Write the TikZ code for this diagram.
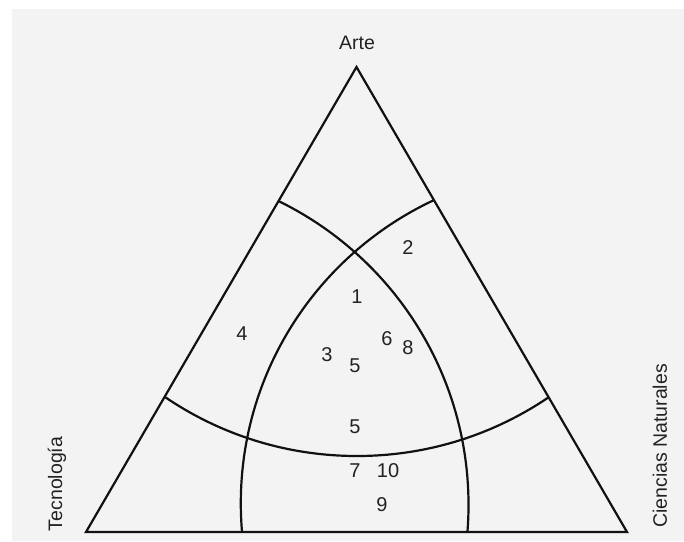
\documentclass[tikz,border=0pt]{standalone}
\usepackage{fontspec}
\setmainfont{Liberation Sans}
\definecolor{bg}{HTML}{F3F3F3}
\definecolor{ink}{HTML}{111111}
\definecolor{txt}{HTML}{222222}
\begin{document}
\begin{tikzpicture}[x=1pt,y=-1pt,
  rule/.style={draw=ink, line width=2.2pt},
  lbl/.style={font=\fontsize{19.5}{22}\selectfont, text=txt, inner sep=0pt},
  num/.style={font=\fontsize{20}{22}\selectfont, text=txt, inner sep=0pt}]
\useasboundingbox (0,0) rectangle (684,541);
\fill[bg] (12,9) rectangle (684,541);
\coordinate (A) at (356.5,67);
\coordinate (B) at (86,532);
\coordinate (C) at (627,532);
\coordinate (OL) at (130.5,505);
\coordinate (OR) at (575.2,503.3);
\coordinate (OT) at (357,114.2);
\begin{scope}
  \clip (A) -- (B) -- (C) -- cycle;
  \draw[rule] (OL) circle[radius=338pt];
  \draw[rule] (OR) circle[radius=334.4pt];
  \draw[rule] (OT) circle[radius=341.8pt];
\end{scope}
\draw[rule, line join=miter] (A) -- (B) -- (C) -- cycle;
\node[lbl] (arte) at (357,43) {Arte};
\node[lbl, rotate=90] (tec) at (57,484) {Tecnología};
\node[lbl, rotate=90] (cn) at (660,446) {Ciencias Naturales};
\node[num] (n2) at (408,248) {2};
\node[num] (n1) at (357,297) {1};
\node[num] (n4) at (242,334) {4};
\node[num] (n6) at (387,339) {6};
\node[num] (n8) at (408,348) {8};
\node[num] (n3) at (327,355) {3};
\node[num] (n5a) at (355,366) {5};
\node[num] (n5b) at (355,427) {5};
\node[num] (n7) at (355,471) {7};
\node[num] (n10) at (388,471) {10};
\node[num] (n9) at (382,505) {9};
\end{tikzpicture}
\end{document}
